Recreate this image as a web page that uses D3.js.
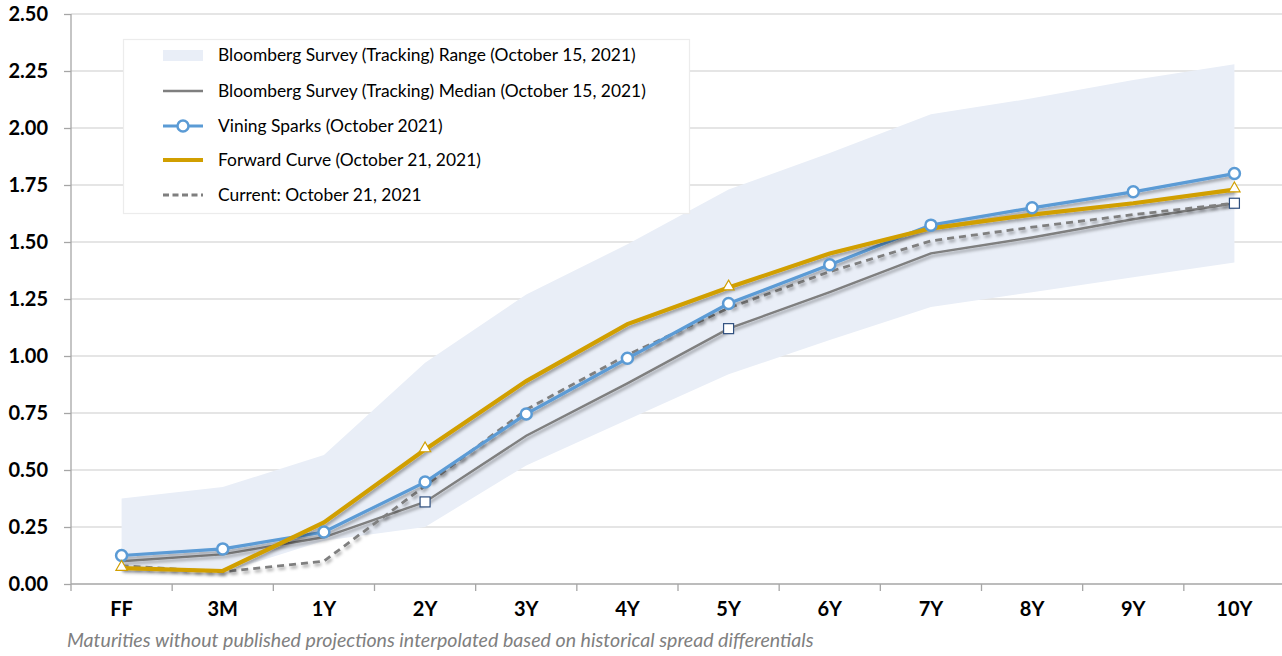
<!DOCTYPE html>
<html><head><meta charset="utf-8">
<script src="https://cdn.jsdelivr.net/npm/d3@7/dist/d3.min.js"></script>
<style>body{margin:0;background:#fff}svg{display:block}</style>
</head><body><svg id="c" width="1282" height="656"></svg>
<script>
const categories = ["FF","3M","1Y","2Y","3Y","4Y","5Y","6Y","7Y","8Y","9Y","10Y"];
const rangeLow  = [0.05,0.05,0.19,0.25,0.52,0.72,0.92,1.07,1.215,1.28,1.345,1.41];
const rangeHigh = [0.375,0.425,0.566,0.97,1.27,1.49,1.73,1.89,2.06,2.13,2.21,2.28];
const median    = [0.10,0.13,0.205,0.36,0.65,0.88,1.12,1.28,1.45,1.52,1.60,1.67];
const vining    = [0.125,0.154,0.228,0.447,0.746,0.99,1.23,1.40,1.574,1.65,1.72,1.80];
const forward   = [0.07,0.057,0.27,0.59,0.89,1.14,1.30,1.45,1.56,1.62,1.67,1.73];
const current   = [0.08,0.053,0.10,0.43,0.765,1.005,1.21,1.37,1.505,1.565,1.62,1.67];
const medianMarks = ["2Y","5Y","10Y"];
const forwardMarks = ["FF","2Y","5Y","10Y"];
const yTicks = [0,0.25,0.5,0.75,1,1.25,1.5,1.75,2,2.25,2.5];
const legendLabels = ["Bloomberg Survey (Tracking) Range (October 15, 2021)","Bloomberg Survey (Tracking) Median (October 15, 2021)","Vining Sparks (October 2021)","Forward Curve (October 21, 2021)","Current: October 21, 2021"];
const footnote = "Maturities without published projections interpolated based on historical spread differentials";

const svg = d3.select("#c");
const L = 71, R = 1285, T = 14, B = 584;
const x = d3.scaleBand().domain(categories).range([L, R]);
const y = d3.scaleLinear().domain([0, 2.5]).range([B, T]);
const cx = c => x(c) + x.bandwidth()/2;

const blue = "#5b9bd5", gold = "#d19f00", gray = "#7f7f7f", band = "#e9eef7";
const FONT = "Lato, 'Open Sans', sans-serif";

const defs = svg.append("defs");
const f = defs.append("filter").attr("id","sh").attr("x","-5%").attr("y","-20%").attr("width","110%").attr("height","140%");
f.append("feDropShadow").attr("dx",1.5).attr("dy",2.5).attr("stdDeviation",1.8).attr("flood-color","#000").attr("flood-opacity",0.35);

// gridlines
svg.append("g").selectAll("line").data(yTicks.filter(d=>d>0)).join("line")
  .attr("x1", L).attr("x2", 1282).attr("y1", d=>y(d)).attr("y2", d=>y(d))
  .attr("stroke", "#dcdcdc").attr("stroke-width", 1.3);

// band
svg.append("path").datum(categories.map((c,i)=>({c, lo: rangeLow[i], hi: rangeHigh[i]})))
  .attr("fill", band)
  .attr("d", d3.area().x(d=>cx(d.c)).y0(d=>y(d.lo)).y1(d=>y(d.hi)));

// y axis
const yAxis = svg.append("g").attr("transform", `translate(${L},0)`)
  .call(d3.axisLeft(y).tickValues(yTicks).tickFormat(d3.format(".2f")).tickSize(7).tickPadding(16));
yAxis.select(".domain").attr("stroke", "#a6a6a6").attr("stroke-width",1.3).attr("d", `M0,${T}V${B+7}`);
yAxis.selectAll(".tick line").attr("stroke", "#a6a6a6").attr("stroke-width",1.3);
yAxis.selectAll(".tick text").attr("font-family",FONT).attr("font-weight","bold").attr("font-size",20).attr("fill","#000");

// x axis
const xAxis = svg.append("g").attr("transform", `translate(0,${B})`)
  .call(d3.axisBottom(x).tickSize(0).tickPadding(18));
xAxis.select(".domain").attr("stroke", "#a6a6a6").attr("stroke-width",1.3).attr("d", `M${L},0H1282`);
xAxis.selectAll(".tick text").attr("font-family",FONT).attr("font-weight","bold").attr("font-size",20).attr("fill","#000");
svg.append("g").selectAll("line").data(categories.slice(1)).join("line")
  .attr("x1", d=>x(d)).attr("x2", d=>x(d)).attr("y1", B).attr("y2", B+7)
  .attr("stroke", "#a6a6a6").attr("stroke-width",1.3);

const line = d3.line().x(d=>cx(d.c)).y(d=>y(d.v));
const pts = arr => categories.map((c,i)=>({c, v: arr[i]}));

// series
svg.append("path").datum(pts(median)).attr("d", line).attr("fill","none")
  .attr("stroke", gray).attr("stroke-width", 2.4).attr("filter","url(#sh)");
svg.append("path").datum(pts(current)).attr("d", line).attr("fill","none")
  .attr("stroke", gray).attr("stroke-width", 2.8).attr("stroke-dasharray","7,5").attr("filter","url(#sh)");
svg.append("path").datum(pts(vining)).attr("d", line).attr("fill","none")
  .attr("stroke", blue).attr("stroke-width", 3.2).attr("filter","url(#sh)");
svg.append("path").datum(pts(forward)).attr("d", line).attr("fill","none")
  .attr("stroke", gold).attr("stroke-width", 4.2).attr("filter","url(#sh)");

// markers
svg.append("g").selectAll("rect").data(pts(median).filter(d=>medianMarks.includes(d.c))).join("rect")
  .attr("x", d=>cx(d.c)-5).attr("y", d=>y(d.v)-5).attr("width",10).attr("height",10)
  .attr("fill","#fff").attr("stroke","#2f4f7f").attr("stroke-width",1.2);
svg.append("g").selectAll("circle").data(pts(vining)).join("circle")
  .attr("cx", d=>cx(d.c)).attr("cy", d=>y(d.v)).attr("r", 5.5)
  .attr("fill","#fff").attr("stroke", blue).attr("stroke-width",2.5);
const tri = d3.symbol().type(d3.symbolTriangle).size(55);
svg.append("g").selectAll("path").data(pts(forward).filter(d=>forwardMarks.includes(d.c))).join("path")
  .attr("transform", d=>`translate(${cx(d.c)},${y(d.v)-1})`).attr("d", tri)
  .attr("fill","#fff").attr("stroke", gold).attr("stroke-width",1.2);

// legend
const lg = svg.append("g");
lg.append("rect").attr("x",123.5).attr("y",39.5).attr("width",566).attr("height",174)
  .attr("fill","#fff").attr("stroke","#ececec").attr("stroke-width",1.2);
const rowsY = [55, 91, 126, 160, 195];
const sx0 = 163, sx1 = 203;
lg.append("rect").attr("x",sx0).attr("y",rowsY[0]-5).attr("width",sx1-sx0).attr("height",11).attr("fill",band);
lg.append("line").attr("x1",sx0).attr("x2",sx1).attr("y1",rowsY[1]).attr("y2",rowsY[1]).attr("stroke",gray).attr("stroke-width",2.4);
lg.append("line").attr("x1",sx0).attr("x2",sx1).attr("y1",rowsY[2]).attr("y2",rowsY[2]).attr("stroke",blue).attr("stroke-width",3.2);
lg.append("circle").attr("cx",(sx0+sx1)/2).attr("cy",rowsY[2]).attr("r",5.5).attr("fill","#fff").attr("stroke",blue).attr("stroke-width",2.5);
lg.append("line").attr("x1",sx0).attr("x2",sx1).attr("y1",rowsY[3]).attr("y2",rowsY[3]).attr("stroke",gold).attr("stroke-width",4.2);
lg.append("line").attr("x1",sx0).attr("x2",sx1).attr("y1",rowsY[4]).attr("y2",rowsY[4]).attr("stroke",gray).attr("stroke-width",2.8).attr("stroke-dasharray","6,3.5");
lg.selectAll("text").data(legendLabels).join("text")
  .attr("x", 218).attr("y", (d,i)=>rowsY[i]).attr("dy","0.35em")
  .attr("font-family",FONT).attr("font-size",17.4).attr("fill","#000").text(d=>d);

// footnote
svg.append("text").attr("x",67).attr("y",647).attr("font-family",FONT)
  .attr("font-style","italic").attr("font-size",19.6).attr("fill","#7f7f7f").text(footnote);
</script></body></html>
